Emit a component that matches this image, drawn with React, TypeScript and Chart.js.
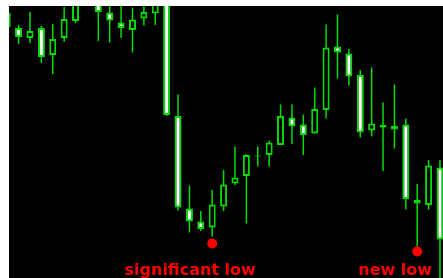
import React, { useEffect, useRef } from "react";
import { Chart, registerables } from "chart.js";

Chart.register(...registerables);

// Candle data (arbitrary price units)
const candleIndex = [
  0, 1, 2, 3, 4, 5, 6, 7, 8, 9, 10, 11, 12, 13, 14, 15, 16, 17, 18, 19,
  20, 21, 22, 23, 24, 25, 26, 27, 28, 29, 30, 31, 32, 33, 34, 35, 36, 37, 38,
];
const openPrices = [
  251, 250, 240, 250, 223, 240, 257, 284, 293, 265.5, 255.5, 248, 259.5, 264.5, 283, 162, 69.5, 56.5, 50.5, 71.5,
  94.5, 102, 121.5, 123, 133, 160.5, 153.5, 144.5, 168, 231.5, 224.5, 203, 147.5, 153, 152, 153.5, 78, 73, 110.5,
];
const highPrices = [
  268, 253, 266, 252, 254, 271, 286, 306, 298, 278, 276, 270.5, 275, 282, 286, 183.5, 92.5, 67, 88, 108,
  131.5, 124, 131.5, 137.5, 173.5, 173.5, 163.5, 190.5, 253.5, 263.5, 229, 208, 210.5, 175.5, 193.5, 159.5, 94, 118, 118,
];
const lowPrices = [
  248, 234, 235, 215, 204, 236, 255, 280, 237, 235.5, 240, 225.5, 252.5, 253, 162, 67.5, 45.5, 47, 41.5, 67,
  93, 54.5, 111.5, 111.5, 133, 134, 123, 144.5, 159.5, 199.5, 192.5, 140.5, 141.5, 107, 129.5, 68.5, 31.5, 68.5, -10,
];
const closePrices = [
  265, 241, 247, 221, 239, 259, 280, 300, 266, 257.5, 250, 258.5, 266, 276, 163, 70.5, 56.5, 49, 73.5, 93.5,
  100.5, 123, 122.5, 135.5, 162, 151.5, 143, 169, 230.5, 225.5, 201.5, 145.5, 154.5, 150.5, 148.5, 79, 74.5, 112.5, 38.5,
];

// Annotated lows
const markerIndex = [18, 36];
const markerPrice = [34.5, 26.5];
const markerLabels = ["significant low", "new low"];

const GREEN = "#00dd00";
const RED = "#ff0000";

const labelPlugin = {
  id: "lowLabels",
  afterDatasetsDraw(chart: any) {
    const ctx = chart.ctx;
    const xs = chart.scales.x;
    ctx.save();
    ctx.font = "bold 16px 'DejaVu Sans'";
    ctx.fillStyle = RED;
    ctx.textAlign = "center";
    ctx.textBaseline = "alphabetic";
    markerIndex.forEach((idx, k) => {
      ctx.fillText(markerLabels[k], xs.getPixelForValue(idx) - 22, chart.chartArea.bottom - 3);
    });
    ctx.restore();
  },
};

export default function App() {
  const ref = useRef<HTMLCanvasElement | null>(null);

  useEffect(() => {
    if (!ref.current) return;
    const bodies = candleIndex.map((i) => ({ x: i, y: [openPrices[i], closePrices[i]] }));
    const wicks = candleIndex.map((i) => ({ x: i, y: [lowPrices[i], highPrices[i]] }));
    const bodyFill = candleIndex.map((i) => (closePrices[i] < openPrices[i] ? "#ffffff" : "#000000"));
    const dots = markerIndex.map((idx, k) => ({ x: idx, y: markerPrice[k] }));

    const chart = new Chart(ref.current, {
      type: "bar",
      data: {
        datasets: [
          {
            type: "scatter" as any,
            data: dots,
            pointRadius: 5,
            pointBackgroundColor: RED,
            pointBorderWidth: 0,
            order: -1,
          } as any,
          {
            data: bodies as any,
            backgroundColor: bodyFill,
            borderColor: GREEN,
            borderWidth: 2,
            borderSkipped: false,
            barThickness: 7,
            grouped: false,
            inflateAmount: 0,
            order: 0,
          } as any,
          {
            data: wicks as any,
            backgroundColor: GREEN,
            borderWidth: 0,
            barThickness: 1.5,
            grouped: false,
            inflateAmount: 0,
            order: 1,
          } as any,
        ],
      },
      options: {
        animation: false,
        responsive: false,
        devicePixelRatio: 1,
        layout: { padding: 0, autoPadding: false },
        plugins: { legend: { display: false }, tooltip: { enabled: false } },
        scales: {
          x: { type: "linear", min: 0.158, max: 38.265, offset: false, display: false },
          y: { type: "linear", min: 0, max: 272, offset: false, display: false },
        },
      },
      plugins: [labelPlugin],
    });
    return () => chart.destroy();
  }, []);

  return (
    <div style={{ position: "fixed", left: 9, top: 6, width: 434, height: 272 }}>
      <canvas ref={ref} width={434} height={272} style={{ background: "#000", display: "block" }} />
    </div>
  );
}
